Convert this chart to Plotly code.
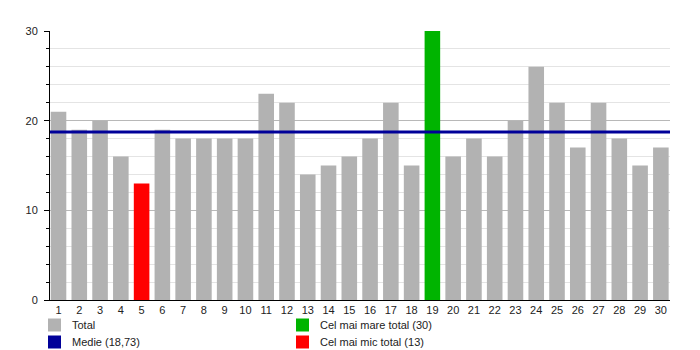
import plotly.graph_objects as go

# Daily totals for days 1..30
days = list(range(1, 31))
totals = [21, 19, 20, 16, 13, 19, 18, 18, 18, 18,
          23, 22, 14, 15, 16, 18, 22, 15, 30, 16,
          18, 16, 20, 26, 22, 17, 22, 18, 15, 17]
y_ticks = [0, 10, 20, 30]

GRAY = "#b2b2b2"
GREEN = "#00b400"
RED = "#ff0000"
NAVY = "#000099"

mean_val = sum(totals) / len(totals)
max_val = max(totals)
min_val = min(totals)

colors = []
for v in totals:
    if v == max_val:
        colors.append(GREEN)
    elif v == min_val:
        colors.append(RED)
    else:
        colors.append(GRAY)

fig = go.Figure()
fig.add_trace(go.Bar(
    x=days, y=totals, marker=dict(color=colors, line=dict(width=0)),
    width=0.75, showlegend=False, hoverinfo="x+y",
))

# Average line across the full plot width
fig.add_shape(type="line", xref="paper", yref="y", x0=0, x1=1,
              y0=mean_val, y1=mean_val,
              line=dict(color=NAVY, width=3), layer="above")

fmt = lambda v: f"{v:.2f}".replace(".", ",")
legend_items = [
    (0.0, 325, GRAY, "Total"),
    (0.0, 342, NAVY, f"Medie ({fmt(mean_val)})"),
    (0.40, 325, GREEN, f"Cel mai mare total ({max_val})"),
    (0.40, 342, RED, f"Cel mai mic total ({min_val})"),
]
W, H = 700, 350
L, R, T, B = 50, 30, 31, 50
pw = W - L - R
ph = H - T - B
for fx, py, col, label in legend_items:
    x0 = L - 2 + fx * pw
    # convert pixel y to paper coords
    yc = (H - B - py) / ph
    half = 6.5 / ph
    fig.add_shape(type="rect", xref="paper", yref="paper",
                  x0=(x0 - L) / pw, x1=(x0 + 13 - L) / pw,
                  y0=yc - half, y1=yc + half,
                  fillcolor=col, line=dict(width=0))
    fig.add_annotation(xref="paper", yref="paper",
                       x=(x0 + 22 - L) / pw, y=yc, text=label,
                       showarrow=False, xanchor="left", yanchor="middle",
                       font=dict(size=11, color="#222222"))

fig.update_layout(
    width=W, height=H,
    margin=dict(l=L, r=R, t=T, b=B),
    paper_bgcolor="white", plot_bgcolor="white",
    font=dict(family="Liberation Sans, Arial, sans-serif", size=11, color="#222222"),
    bargap=0.25,
    showlegend=False,
    xaxis=dict(
        range=[0.59, 30.44], tickmode="array", tickvals=days,
        ticktext=[str(d) for d in days], showgrid=False, zeroline=False,
        showline=True, linecolor="black", linewidth=1, ticks="", ticklen=0,
        ticklabelstandoff=0,
    ),
    yaxis=dict(
        range=[0, 30], tickmode="array", tickvals=y_ticks,
        showgrid=True, gridcolor="#b8b8b8", gridwidth=1,
        zeroline=False, showline=True, linecolor="black", linewidth=1,
        ticks="outside", ticklen=5, tickcolor="black",
        minor=dict(dtick=2, showgrid=True, gridcolor="#e4e4e4",
                   ticks="outside", ticklen=3, tickcolor="black"),
        ticklabelstandoff=4,
    ),
)

fig.write_html("out.html")
